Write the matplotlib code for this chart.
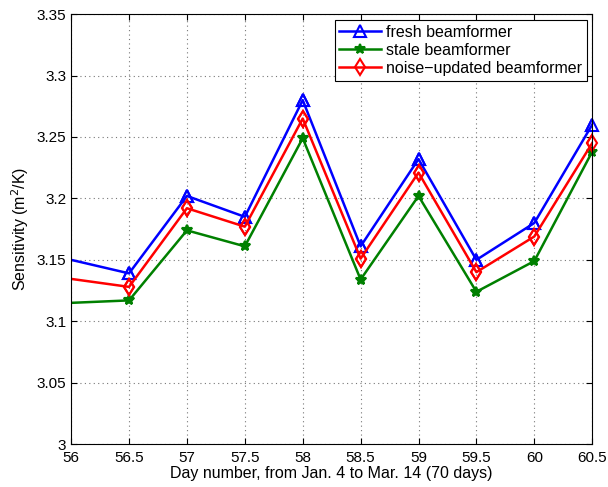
import matplotlib
matplotlib.use("Agg")
import matplotlib.pyplot as plt

plt.rcParams['font.family'] = ['Liberation Sans', 'DejaVu Sans']

# day numbers (first point sits just left of the visible range)
days = [55.5, 56.5, 57, 57.5, 58, 58.5, 59, 59.5, 60, 60.5]
fresh = [3.161, 3.139, 3.202, 3.185, 3.280, 3.161, 3.232, 3.150, 3.180, 3.260]
stale = [3.113, 3.117, 3.174, 3.161, 3.249, 3.134, 3.202, 3.124, 3.149, 3.238]
noise = [3.141, 3.128, 3.192, 3.177, 3.265, 3.151, 3.221, 3.140, 3.169, 3.245]

xticks = [56, 56.5, 57, 57.5, 58, 58.5, 59, 59.5, 60, 60.5]
yticks = [3, 3.05, 3.1, 3.15, 3.2, 3.25, 3.3, 3.35]

fig = plt.figure(figsize=(6.08, 4.87), dpi=100)
ax = fig.add_axes([0.117, 0.088, 0.857, 0.883])

styles = [
    (fresh, '#0000ff', '^', 8, 'none', 'fresh beamformer'),
    (stale, '#008000', '*', 7, '#008000', 'stale beamformer'),
    (noise, '#ff0000', 'd', 8, 'none', 'noise\u2212updated beamformer'),
]
for vals, col, mk, ms, mfc, lab in styles:
    ax.plot(days, vals, color=col, lw=1.8, marker=mk, ms=ms, mfc=mfc,
            mew=1.5, markevery=slice(1, None), label=lab)
    # markers on the visible points are not clipped at the axes edge
    ax.plot(days[1:], vals[1:], ls='none', color=col, marker=mk, ms=ms,
            mfc=mfc, mew=1.5, clip_on=False)

ax.set_xlim(56, 60.5)
ax.set_ylim(3, 3.35)
ax.set_xticks(xticks)
ax.set_xticklabels(['56', '56.5', '57', '57.5', '58', '58.5', '59', '59.5', '60', '60.5'])
ax.set_yticks(yticks)
ax.set_yticklabels(['3', '3.05', '3.1', '3.15', '3.2', '3.25', '3.3', '3.35'])
ax.tick_params(direction='in', top=True, right=True, labelsize=11, length=4)
ax.tick_params(axis='x', pad=5)
ax.grid(True, linestyle=(0, (1, 3)), color='#777777', lw=0.8)
ax.set_axisbelow(True)

ax.set_xlabel('Day number, from Jan. 4 to Mar. 14 (70 days)', fontsize=11.5, labelpad=1)
ax.set_ylabel('Sensitivity (m$^2$/K)', fontsize=11.5)

leg = ax.legend(loc='upper right', fontsize=11.5, fancybox=False, framealpha=1,
                edgecolor='black', borderpad=0.3, labelspacing=0.2,
                handlelength=2.6, handletextpad=0.3, borderaxespad=0.35)
leg.get_frame().set_linewidth(0.8)

fig.savefig('out.png', dpi=100)
